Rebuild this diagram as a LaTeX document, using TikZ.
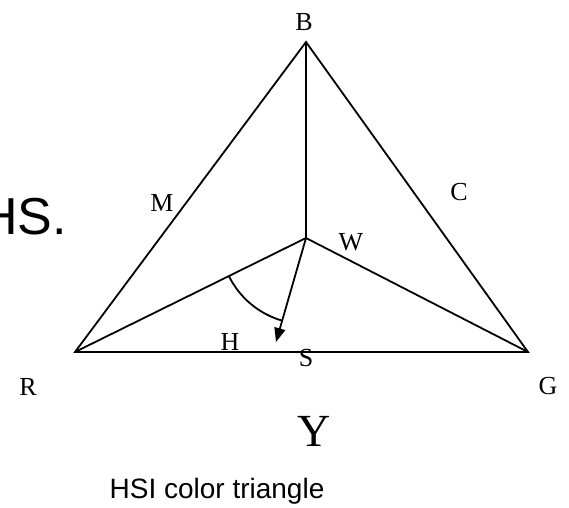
\documentclass[tikz,border=0pt]{standalone}
\usepackage{fontspec}
\setmainfont{Liberation Serif}
\newfontfamily\arialfont{Liberation Sans}
\usetikzlibrary{arrows.meta}
\begin{document}
\begin{tikzpicture}[x=1pt,y=-1pt,line width=1.8pt,
  lbl/.style={font=\fontsize{26}{28}\selectfont,inner sep=0pt},
  edge/.style={draw=black,line join=miter}]
\useasboundingbox (0,0) rectangle (569,507);
\coordinate (B) at (306,42);
\coordinate (R) at (75,352);
\coordinate (G) at (528,352);
\coordinate (W) at (306,238);
\coordinate (P) at (276,342);
\draw[edge] (R) -- (B) -- (G) -- cycle;
\draw[edge] (B) -- (W);
\draw[edge] (R) -- (W) -- (G);
\draw[edge,-{Triangle[length=14pt,width=11pt]}] (W) -- (P);
\draw[edge] (W) ++(153.7:86) arc[start angle=153.7,end angle=106,radius=86];
\node[lbl] (lB) at (304,22) {B};
\node[lbl] (lM) at (162,203) {M};
\node[lbl] (lC) at (459,192) {C};
\node[lbl] (lW) at (351,242) {W};
\node[lbl] (lH) at (230,342) {H};
\node[lbl] (lS) at (306,358) {S};
\node[lbl] (lR) at (28,387) {R};
\node[lbl] (lG) at (548,386) {G};
\node[inner sep=0pt,font=\fontsize{46}{48}\selectfont] (lY) at (314,431) {Y};
\node[inner sep=0pt,anchor=east,font=\arialfont\fontsize{52}{54}\selectfont] (lHS) at (68,217) {HS.};
\node[inner sep=0pt,font=\arialfont\fontsize{28}{30}\selectfont] (cap) at (217,491) {HSI color triangle};
\end{tikzpicture}
\end{document}
